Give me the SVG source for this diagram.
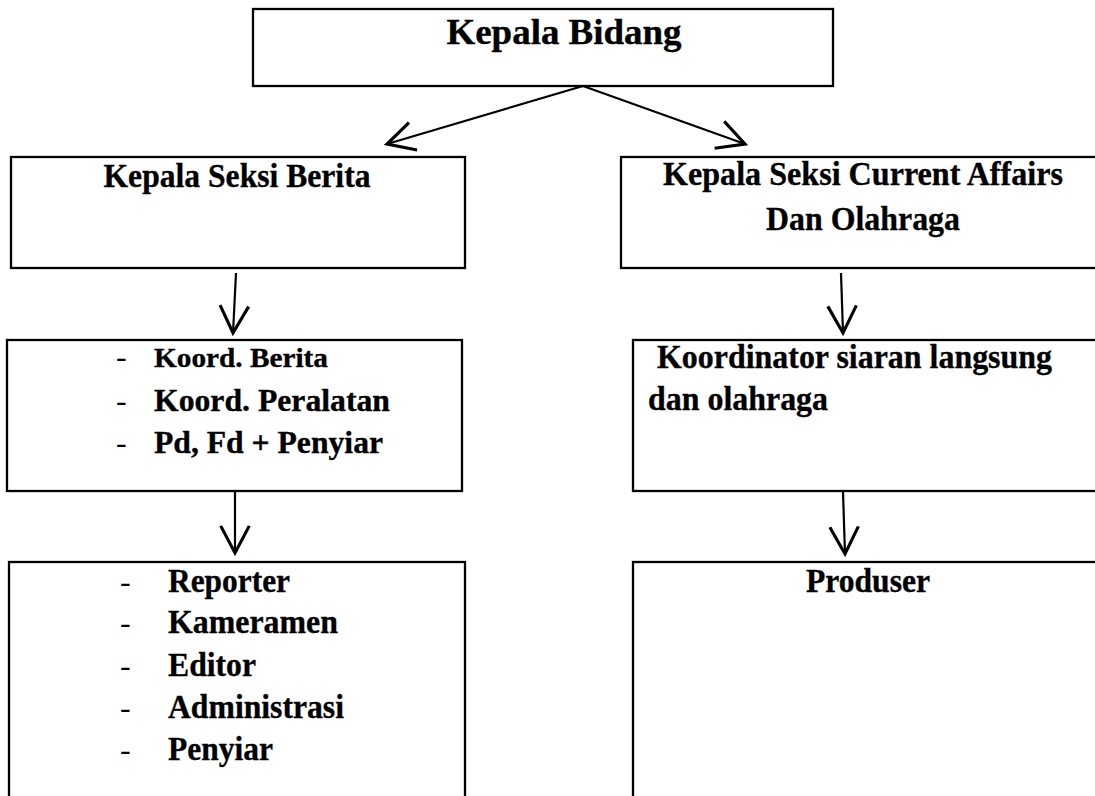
<svg xmlns="http://www.w3.org/2000/svg" width="1095" height="796" viewBox="0 0 1095 796">
<defs>
<style>
.box{fill:#fff;stroke:#000;stroke-width:2.3}
text{font-family:'Liberation Serif',Tinos,'Times New Roman',Times,serif;fill:#000}
.t{font-weight:700;font-size:34px;stroke:#000;stroke-width:0.35}
.d{font-weight:400;font-size:32px}
.c{text-anchor:middle}
.ln{fill:none;stroke:#000;stroke-width:2.2}
</style>
<marker id="arr" markerUnits="userSpaceOnUse" markerWidth="40" markerHeight="40" viewBox="-22 -14 26 28" refX="0" refY="0" orient="auto" overflow="visible">
<path d="M-19,-10 L0,0 L-19,10" fill="none" stroke="#000" stroke-width="2.2"/>
</marker>
</defs>
<rect width="1095" height="796" fill="#fff"/>
<g id="connectors">
<line class="ln" x1="583" y1="86" x2="387" y2="144" marker-end="url(#arr)"/>
<line class="ln" x1="583" y1="86" x2="745" y2="144" marker-end="url(#arr)"/>
<line class="ln" x1="236" y1="273" x2="233" y2="333" marker-end="url(#arr)"/>
<line class="ln" x1="235" y1="492" x2="235" y2="553" marker-end="url(#arr)"/>
<line class="ln" x1="841" y1="273" x2="843" y2="333" marker-end="url(#arr)"/>
<line class="ln" x1="843" y1="492" x2="845" y2="554" marker-end="url(#arr)"/>
</g>
<g id="kepala-bidang">
<rect class="box" x="253" y="9" width="580" height="77"/>
<text class="t c" x="564" y="44" style="font-size:35px" textLength="235" lengthAdjust="spacingAndGlyphs">Kepala Bidang</text>
</g>
<g id="seksi-berita">
<rect class="box" x="11" y="157" width="454" height="111"/>
<text class="t c" x="237" y="186.5" textLength="267" lengthAdjust="spacingAndGlyphs">Kepala Seksi Berita</text>
</g>
<g id="seksi-current-affairs">
<rect class="box" x="621" y="157" width="500" height="111"/>
<text class="t c" x="863" y="185" textLength="400" lengthAdjust="spacingAndGlyphs">Kepala Seksi Current Affairs</text>
<text class="t c" x="863" y="230" textLength="194" lengthAdjust="spacingAndGlyphs">Dan Olahraga</text>
</g>
<g id="koordinator-berita">
<rect class="box" x="7" y="340" width="455" height="151"/>
<text class="d" x="116" y="367">-</text>
<text class="t" x="154" y="367" style="font-size:28px" textLength="174" lengthAdjust="spacingAndGlyphs">Koord. Berita</text>
<text class="d" x="116" y="410.5">-</text>
<text class="t" x="154" y="410.5" style="font-size:31px" textLength="236" lengthAdjust="spacingAndGlyphs">Koord. Peralatan</text>
<text class="d" x="116" y="453">-</text>
<text class="t" x="154" y="453" style="font-size:32px" textLength="229" lengthAdjust="spacingAndGlyphs">Pd, Fd + Penyiar</text>
</g>
<g id="koordinator-siaran">
<rect class="box" x="633" y="340" width="480" height="151"/>
<text class="t" x="657" y="368" textLength="395" lengthAdjust="spacingAndGlyphs">Koordinator siaran langsung</text>
<text class="t" x="648" y="410" textLength="180" lengthAdjust="spacingAndGlyphs">dan olahraga</text>
</g>
<g id="staf-berita">
<rect class="box" x="9" y="562" width="456" height="260"/>
<text class="d" x="120" y="592">-</text>
<text class="t" x="168" y="592" textLength="122" lengthAdjust="spacingAndGlyphs">Reporter</text>
<text class="d" x="120" y="633">-</text>
<text class="t" x="168" y="633" textLength="170" lengthAdjust="spacingAndGlyphs">Kameramen</text>
<text class="d" x="120" y="676">-</text>
<text class="t" x="168" y="676" textLength="88" lengthAdjust="spacingAndGlyphs">Editor</text>
<text class="d" x="120" y="718">-</text>
<text class="t" x="168" y="718" textLength="176" lengthAdjust="spacingAndGlyphs">Administrasi</text>
<text class="d" x="120" y="760">-</text>
<text class="t" x="168" y="760" textLength="105" lengthAdjust="spacingAndGlyphs">Penyiar</text>
</g>
<g id="produser">
<rect class="box" x="633" y="562" width="480" height="260"/>
<text class="t c" x="868" y="592" textLength="124" lengthAdjust="spacingAndGlyphs">Produser</text>
</g>
</svg>
